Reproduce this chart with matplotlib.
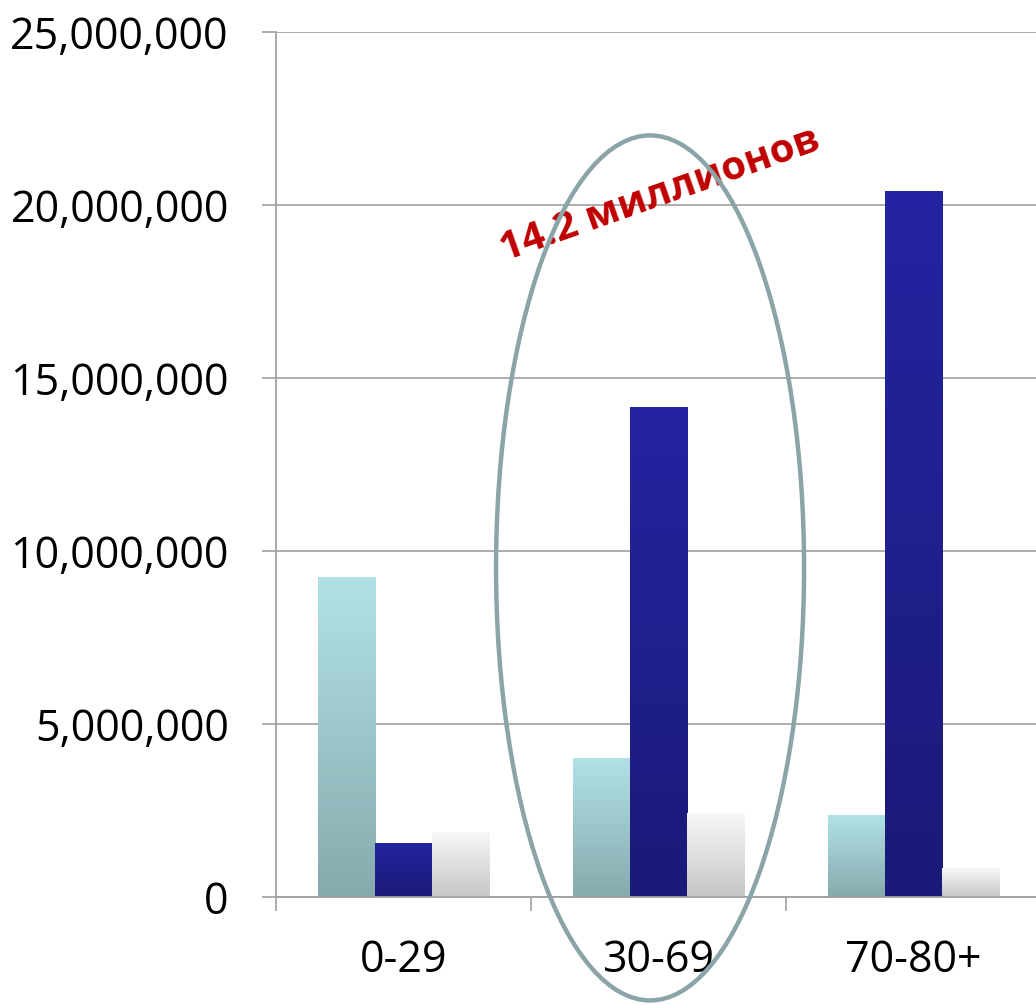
import numpy as np
import matplotlib.pyplot as plt
from matplotlib.patches import Ellipse
from matplotlib.colors import LinearSegmentedColormap
from matplotlib.ticker import FuncFormatter

categories = ['0-29', '30-69', '70-80+']
series_a = [9250000, 4020000, 2370000]     # light cyan
series_b = [1560000, 14160000, 20400000]   # dark blue
series_c = [1880000, 2430000, 840000]      # white / grey
yticks = [0, 5000000, 10000000, 15000000, 20000000, 25000000]
note = '14.2 миллионов'

# top colour, bottom colour
gradients = [('#b2e2e6', '#86aaad'), ('#2424a2', '#1a1a78'), ('#f8f8f8', '#c6c6c6')]

plt.rcParams['font.family'] = ['Open Sans', 'DejaVu Sans']

fig = plt.figure(figsize=(10.36, 10.05), dpi=100)
ax = fig.add_axes([0.2664, 0.1075, 0.7384, 0.8607])

x = np.arange(len(categories))
w = 0.224
grad = np.linspace(0, 1, 256).reshape(-1, 1)
for i, vals in enumerate([series_a, series_b, series_c]):
    cmap = LinearSegmentedColormap.from_list('g%d' % i, [gradients[i][1], gradients[i][0]])
    bars = ax.bar(x + (i - 1) * w, vals, width=w, color='none', edgecolor='none', zorder=2)
    for b in bars:
        x0, y0 = b.get_x(), b.get_y()
        im = ax.imshow(grad, cmap=cmap, aspect='auto', origin='lower',
                       extent=[x0, x0 + b.get_width(), y0, y0 + b.get_height()], zorder=2)
        im.set_clip_path(b)

ax.set_xlim(-0.5, 2.5)
ax.set_ylim(0, 25000000)
ax.set_yticks(yticks)
ax.yaxis.set_major_formatter(FuncFormatter(lambda v, p: '{:,.0f}'.format(v)))
ax.set_xticks(x)
ax.set_xticklabels(categories)
ax.set_xticks([-0.5, 0.5, 1.5, 2.5], minor=True)
ax.tick_params(axis='x', which='major', length=0, pad=30, labelsize=31)
ax.tick_params(axis='x', which='minor', length=10, width=1.2, color='#a0a0a0')
ax.tick_params(axis='y', length=10, width=1.2, color='#a0a0a0', pad=24, labelsize=31)

ax.grid(axis='y', color='#a6a6a6', lw=1.3, zorder=0)
ax.set_axisbelow(True)
for s in ['top', 'right']:
    ax.spines[s].set_visible(False)
for s in ['left', 'bottom']:
    ax.spines[s].set_color('#a0a0a0')
    ax.spines[s].set_linewidth(1.3)

ax.text(1.006, 20290000, note, color='#c00000', fontsize=29, fontweight='bold',
        rotation=19.5, ha='center', va='center', rotation_mode='anchor', zorder=4)

ax.add_patch(Ellipse((0.967, 9510000), 1.208, 25000000, fill=False,
                     edgecolor='#8aa4a8', lw=3.2, clip_on=False, zorder=5))

fig.savefig('out.png', dpi=100)
